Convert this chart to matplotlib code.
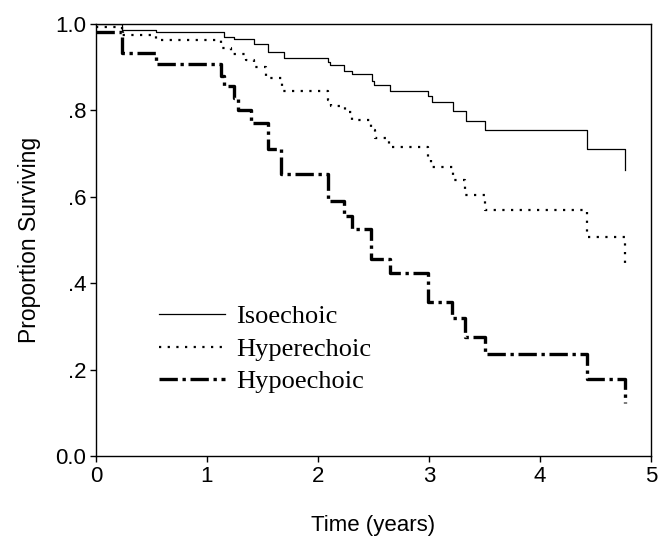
import matplotlib
matplotlib.use("Agg")
import matplotlib.pyplot as plt

# Kaplan-Meier step data (time in years, proportion surviving)
iso_t = [0, 0.23, 0.54, 1.15, 1.24, 1.42, 1.55, 1.69, 2.09, 2.11, 2.23, 2.31, 2.49, 2.50, 2.65, 2.99, 3.03, 3.22, 3.33, 3.50, 4.42, 4.77]
iso_s = [1.0, 0.986, 0.981, 0.971, 0.965, 0.953, 0.936, 0.921, 0.912, 0.904, 0.892, 0.884, 0.868, 0.859, 0.846, 0.834, 0.819, 0.799, 0.776, 0.755, 0.711, 0.662]

hyper_t = [0, 0.23, 0.54, 1.13, 1.22, 1.35, 1.42, 1.53, 1.68, 2.09, 2.12, 2.24, 2.31, 2.48, 2.51, 2.64, 2.99, 3.02, 3.22, 3.32, 3.50, 4.42, 4.77]
hyper_s = [0.993, 0.975, 0.963, 0.945, 0.930, 0.917, 0.901, 0.876, 0.845, 0.824, 0.810, 0.796, 0.778, 0.755, 0.736, 0.715, 0.690, 0.669, 0.639, 0.604, 0.569, 0.508, 0.438]

hypo_t = [0, 0.23, 0.54, 1.13, 1.15, 1.24, 1.28, 1.40, 1.55, 1.67, 2.09, 2.23, 2.31, 2.48, 2.65, 2.99, 3.21, 3.32, 3.50, 4.42, 4.77]
hypo_s = [0.981, 0.932, 0.907, 0.880, 0.856, 0.828, 0.801, 0.770, 0.710, 0.652, 0.590, 0.556, 0.525, 0.456, 0.424, 0.357, 0.319, 0.276, 0.237, 0.178, 0.122]

labels = ["Isoechoic", "Hyperechoic", "Hypoechoic"]
x_ticks = [0, 1, 2, 3, 4, 5]
y_ticks = [0.0, 0.2, 0.4, 0.6, 0.8, 1.0]
y_tick_labels = ["0.0", ".2", ".4", ".6", ".8", "1.0"]

fig = plt.figure(figsize=(6.64, 5.40), dpi=100)
ax = fig.add_axes([96/664, 1-456/540, (651-96)/664, (456-24)/540])

ax.step(iso_t, iso_s, where="post", color="black", lw=0.9, label=labels[0])
ax.step(hyper_t, hyper_s, where="post", color="black", lw=1.6,
        linestyle=(0, (1.0, 2.9)), label=labels[1])
ax.step(hypo_t, hypo_s, where="post", color="black", lw=2.4,
        linestyle=(0, (5.5, 1.4, 1.0, 1.4)), label=labels[2])

ax.set_xlim(0, 5)
ax.set_ylim(0, 1.0)
ax.set_xticks(x_ticks)
ax.set_yticks(y_ticks)
ax.set_yticklabels(y_tick_labels)

sans = "Liberation Sans"
for lab in ax.get_xticklabels() + ax.get_yticklabels():
    lab.set_fontfamily(sans)
    lab.set_fontsize(16)
ax.tick_params(direction="out", length=4, width=1, pad=3, colors="black")
for sp in ax.spines.values():
    sp.set_linewidth(1.0)
    sp.set_color("black")

ax.set_xlabel("Time (years)", fontfamily=sans, fontsize=16, labelpad=20)
ax.set_ylabel("Proportion Surviving", fontfamily=sans, fontsize=16.5, labelpad=10)

ax.legend(loc="upper left", bbox_to_anchor=(0.095, 0.375), frameon=False,
          prop={"family": "Liberation Serif", "size": 19},
          handlelength=2.5, handletextpad=0.4, labelspacing=0.35,
          borderaxespad=0)

fig.savefig("out.png", dpi=100)
